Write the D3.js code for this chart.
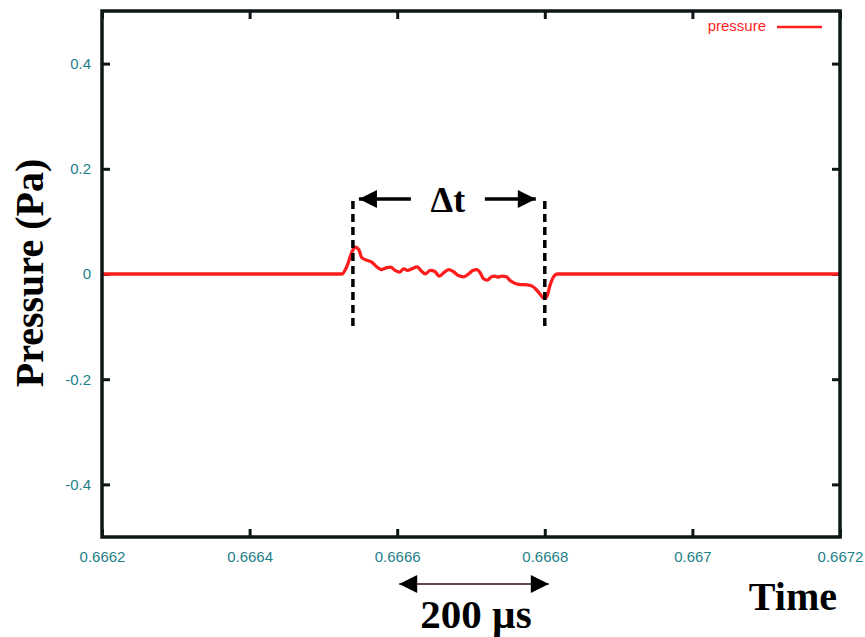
<!DOCTYPE html>
<html>
<head>
<meta charset="utf-8">
<script src="https://cdn.jsdelivr.net/npm/d3@7"></script>
<style>
  html, body { margin: 0; padding: 0; background: #fff; }
  svg { display: block; }
</style>
</head>
<body>
<svg id="chart" width="865" height="637"></svg>
<script>
// ---- data ----
const time = [0.6662, 0.666525, 0.666532, 0.666539, 0.666543, 0.666548, 0.666552, 0.666559,
  0.666566, 0.666572, 0.666579, 0.666586, 0.666591, 0.666597, 0.666603, 0.666609,
  0.666614, 0.666620, 0.666627, 0.666633, 0.666638, 0.666645, 0.666651, 0.666657,
  0.666664, 0.666670, 0.666676, 0.666683, 0.666690, 0.666697, 0.666703, 0.666708,
  0.666713, 0.666717, 0.666722, 0.666727, 0.666732, 0.666736, 0.666742, 0.666748,
  0.666753, 0.666760, 0.666767, 0.666776, 0.666783, 0.666788, 0.666794, 0.666799,
  0.666803, 0.666807, 0.666812, 0.666817, 0.6672];
const pressure = [0, 0, 0.015, 0.043, 0.051, 0.046, 0.031, 0.026,
  0.022, 0.014, 0.0085, 0.012, 0.013, 0.007, 0.0035, 0.0099,
  0.007, 0.0099, 0.0137, 0.0053, 0.0004, 0.007, 0.0047, -0.0042,
  0.0035, 0.0085, 0.0047, -0.0028, -0.0053, 0.0004, 0.007, 0.0085,
  0.0009, -0.0091, -0.0117, -0.006, -0.004, -0.006, -0.004, -0.0053,
  -0.0123, -0.018, -0.02, -0.0205, -0.023, -0.029, -0.039, -0.047,
  -0.042, -0.022, -0.005, 0, 0];
const xTicks = [0.6662, 0.6664, 0.6666, 0.6668, 0.667, 0.6672];
const xTickLabels = ["0.6662", "0.6664", "0.6666", "0.6668", "0.667", "0.6672"];
const yTicks = [-0.4, -0.2, 0, 0.2, 0.4];
const yTickLabels = ["-0.4", "-0.2", "0", "0.2", "0.4"];
const xDomain = [0.6662, 0.6672];
const yDomain = [-0.5, 0.5];
const seriesName = "pressure";
const deltaT = [0.66654, 0.6668];      // dashed markers
const scaleBar = [0.6666, 0.6668];     // 200 µs bar
const deltaLabel = "Δt";
const scaleLabel = "200 µs";
const xTitle = "Time";
const yTitle = "Pressure (Pa)";

// ---- layout ----
const svg = d3.select("#chart");
const L = 102, R = 840, T = 11, B = 537;
const x = d3.scaleLinear().domain(xDomain).range([L, R]);
const y = d3.scaleLinear().domain(yDomain).range([B, T]);

const frameColor = "#0d1717";
const tickColor = "#1e8088";
const red = "#ff1e1e";

// defs: arrow markers
const defs = svg.append("defs");
defs.append("marker").attr("id", "ah").attr("viewBox", "0 0 10 10")
  .attr("refX", 10).attr("refY", 5).attr("markerUnits", "userSpaceOnUse")
  .attr("markerWidth", 22).attr("markerHeight", 18).attr("orient", "auto-start-reverse")
  .append("path").attr("d", "M0,0 L10,5 L0,10 Z").attr("fill", "#000");
defs.append("marker").attr("id", "ah2").attr("viewBox", "0 0 10 10")
  .attr("refX", 10).attr("refY", 5).attr("markerUnits", "userSpaceOnUse")
  .attr("markerWidth", 24).attr("markerHeight", 18).attr("orient", "auto-start-reverse")
  .append("path").attr("d", "M0,0 L10,5 L0,10 Z").attr("fill", "#000");
defs.append("filter").attr("id", "soft")
  .append("feGaussianBlur").attr("stdDeviation", 0.6);

// axes (ticks inward, on all four sides)
const tickLen = 8;
const bottomAxis = d3.axisBottom(x).tickValues(xTicks).tickSize(-tickLen).tickFormat((d, i) => xTickLabels[i]).tickPadding(14);
const topAxis = d3.axisTop(x).tickValues(xTicks).tickSize(-tickLen).tickFormat("");
const leftAxis = d3.axisLeft(y).tickValues(yTicks).tickSize(-tickLen).tickFormat((d, i) => yTickLabels[i]).tickPadding(11);
const rightAxis = d3.axisRight(y).tickValues(yTicks).tickSize(-tickLen).tickFormat("");

function styleAxis(g) {
  g.select(".domain").remove();
  g.selectAll(".tick line").attr("stroke", frameColor).attr("stroke-width", 3);
  g.selectAll(".tick text").attr("fill", tickColor)
    .attr("font-family", "'Liberation Sans', Arial, sans-serif").attr("font-size", 15);
}
svg.append("g").attr("transform", `translate(0,${B})`).call(bottomAxis).call(styleAxis);
svg.append("g").attr("transform", `translate(0,${T})`).call(topAxis).call(styleAxis);
svg.append("g").attr("transform", `translate(${L},0)`).call(leftAxis).call(styleAxis);
svg.append("g").attr("transform", `translate(${R},0)`).call(rightAxis).call(styleAxis);

// data line
const line = d3.line().x((d, i) => x(time[i])).y(d => y(d)).curve(d3.curveMonotoneX);
svg.append("path").datum(pressure).attr("d", line)
  .attr("fill", "none").attr("stroke", red).attr("stroke-width", 3.3)
  .attr("stroke-linejoin", "round").attr("filter", "url(#soft)");

// frame
svg.append("rect").attr("x", L).attr("y", T).attr("width", R - L).attr("height", B - T)
  .attr("fill", "none").attr("stroke", frameColor).attr("stroke-width", 3.5);

// legend
svg.append("text").attr("x", 766).attr("y", 31).attr("text-anchor", "end")
  .attr("fill", red).attr("font-family", "'Liberation Sans', Arial, sans-serif")
  .attr("font-size", 15).text(seriesName);
svg.append("line").attr("x1", 777).attr("x2", 822).attr("y1", 27).attr("y2", 27)
  .attr("stroke", red).attr("stroke-width", 2.5);

// dashed markers
const dashTop = 201, dashBot = 328;
deltaT.forEach(t => {
  svg.append("line").attr("x1", x(t)).attr("x2", x(t)).attr("y1", dashTop).attr("y2", dashBot)
    .attr("stroke", "#000").attr("stroke-width", 3.5).attr("stroke-dasharray", "8,5");
});

// Δt arrows
const arrowY = 199;
const midX = (x(deltaT[0]) + x(deltaT[1])) / 2;
svg.append("line").attr("x1", midX - 38).attr("x2", x(deltaT[0]) + 6).attr("y1", arrowY).attr("y2", arrowY)
  .attr("stroke", "#000").attr("stroke-width", 3.5).attr("marker-end", "url(#ah)");
svg.append("line").attr("x1", midX + 36).attr("x2", x(deltaT[1]) - 9).attr("y1", arrowY).attr("y2", arrowY)
  .attr("stroke", "#000").attr("stroke-width", 3.5).attr("marker-end", "url(#ah)");
svg.append("text").attr("x", midX - 1).attr("y", 212).attr("text-anchor", "middle")
  .attr("font-family", "'Liberation Serif', 'Times New Roman', serif").attr("font-weight", "bold")
  .attr("font-size", 36).attr("fill", "#000").text(deltaLabel);

// scale bar
const sbY = 584;
svg.append("line").attr("x1", x(scaleBar[0]) + 2).attr("x2", x(scaleBar[1]) + 4).attr("y1", sbY).attr("y2", sbY)
  .attr("stroke", "#3a0808").attr("stroke-width", 1.3)
  .attr("marker-start", "url(#ah2)").attr("marker-end", "url(#ah2)");
svg.append("text").attr("x", 476).attr("y", 628).attr("text-anchor", "middle")
  .attr("font-family", "'Liberation Serif', 'Times New Roman', serif").attr("font-weight", "bold")
  .attr("font-size", 41).attr("fill", "#000").text(scaleLabel);

// axis titles
svg.append("text").attr("x", 837).attr("y", 610).attr("text-anchor", "end")
  .attr("font-family", "'Liberation Serif', 'Times New Roman', serif").attr("font-weight", "bold")
  .attr("font-size", 40).attr("fill", "#000").text(xTitle);
svg.append("text").attr("transform", "translate(43,273) rotate(-90)").attr("text-anchor", "middle")
  .attr("font-family", "'Liberation Serif', 'Times New Roman', serif").attr("font-weight", "bold")
  .attr("font-size", 40).attr("fill", "#000").text(yTitle);
</script>
</body>
</html>
